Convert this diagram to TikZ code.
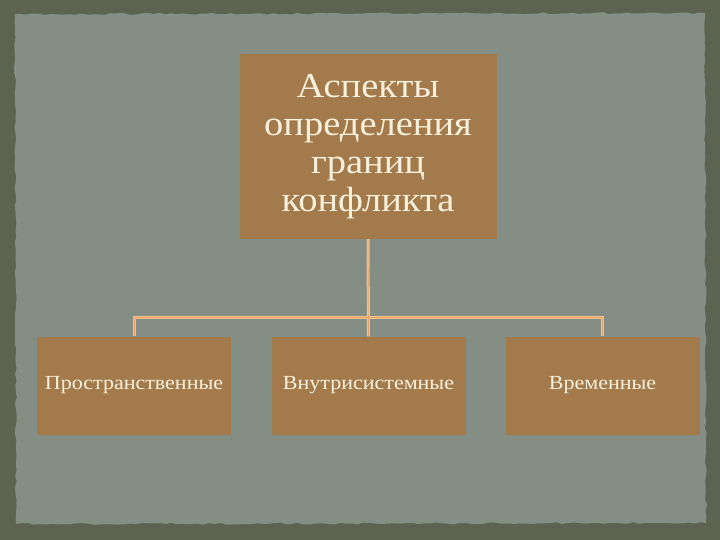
\documentclass[tikz,border=0pt]{standalone}
\usepackage{fontspec}
\setmainfont{Liberation Serif}[FakeStretch=1.1]
\usetikzlibrary{decorations.pathmorphing}
\definecolor{outerbg}{HTML}{5C6350}
\definecolor{panel}{HTML}{858E84}
\definecolor{boxfill}{HTML}{A27A4B}
\definecolor{boxtext}{HTML}{F7F0DC}
\definecolor{link}{HTML}{F2C28C}
\definecolor{linkmid}{HTML}{E9A064}
\tikzset{
  box/.style={fill=boxfill, text=boxtext, inner sep=2pt, align=center},
  topbox/.style={box, minimum width=257pt, minimum height=185pt, font=\fontsize{35}{38}\selectfont},
  subbox/.style={box, minimum width=194pt, minimum height=98pt, font=\fontsize{20}{24}\selectfont},
  linkline/.style={draw=link, line width=3pt},
  linkcore/.style={draw=linkmid, line width=0.7pt}
}
\begin{document}
\begin{tikzpicture}[x=1pt,y=-1pt]
\useasboundingbox (0,0) rectangle (720,540);
\fill[outerbg] (0,0) rectangle (720,540);
\fill[panel, decorate, decoration={random steps, segment length=6pt, amplitude=1pt}]
  (15,14) -- (705,13) -- (706,523) -- (16,524) -- cycle;
\node[topbox] (top) at (368,146.5) {Аспекты\\определения\\границ\\конфликта};
\node[subbox] (b1) at (134,385.5) {Пространственные};
\node[subbox] (b2) at (368.5,385.5) {Внутрисистемные};
\node[subbox] (b3) at (602.5,385.5) {Временные};
\coordinate (bar) at (368,317);
\foreach \s in {linkline, linkcore}{
  \draw[\s] (top.south) -- (b2.north);
  \draw[\s] (b1.north) -- (b1.north |- bar) -- (b3.north |- bar) -- (b3.north);
}
\end{tikzpicture}
\end{document}
